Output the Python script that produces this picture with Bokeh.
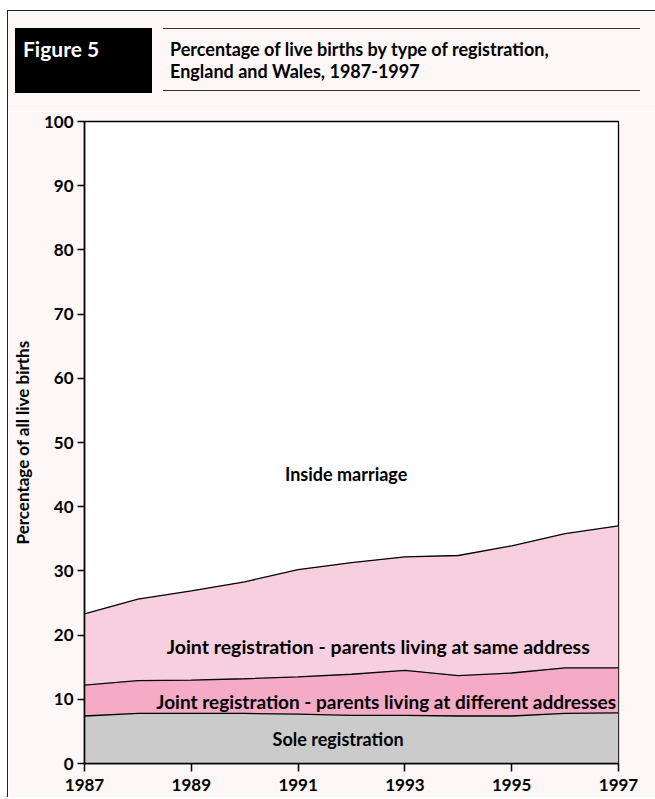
import numpy as np
from bokeh.plotting import figure
from bokeh.layouts import column
from bokeh.models import Range1d, FixedTicker, ColumnDataSource, Div
from bokeh.core.properties import value
from bokeh.embed import file_html
from bokeh.resources import INLINE

# ---- data (percent of all live births) ----
years = [1987, 1988, 1989, 1990, 1991, 1992, 1993, 1994, 1995, 1996, 1997]
sole = [7.4, 7.8, 7.8, 7.8, 7.7, 7.5, 7.5, 7.4, 7.4, 7.8, 7.9]
joint_diff = [4.8, 5.1, 5.2, 5.4, 5.8, 6.4, 7.0, 6.3, 6.7, 7.1, 7.0]
joint_same = [11.1, 12.7, 13.9, 15.1, 16.7, 17.4, 17.7, 18.7, 19.8, 20.9, 22.1]
x_ticks = [1987, 1989, 1991, 1993, 1995, 1997]
y_ticks = [0, 10, 20, 30, 40, 50, 60, 70, 80, 90, 100]
fig_label = "Figure 5"
title_lines = ["Percentage of live births by type of registration,", "England and Wales, 1987-1997"]

c1 = np.array(sole)
c2 = c1 + np.array(joint_diff)
c3 = c2 + np.array(joint_same)
src = ColumnDataSource(dict(x=years, zero=[0] * len(years), c1=c1, c2=c2, c3=c3))

FONT = "Lato"
BG = "#FDF7F7"

# ---------------- header (HTML) ----------------
hW, hH = 647, 100
header_html = f"""
<div style="position:relative;width:{hW}px;height:{hH}px;background:{BG};
            font-family:'{FONT}';font-weight:bold;margin:0;padding:0;">
  <div style="position:absolute;left:7px;top:17px;width:137px;height:65px;background:#000;"></div>
  <div style="position:absolute;left:15px;top:27px;font-size:21px;line-height:21px;color:#fff;
              white-space:nowrap;">{fig_label}</div>
  <div style="position:absolute;left:155px;top:17px;width:477px;height:0;
              border-top:1.5px solid #333;"></div>
  <div style="position:absolute;left:155px;top:79px;width:477px;height:0;
              border-top:1.5px solid #333;"></div>
  <div style="position:absolute;left:162px;top:27px;font-size:18px;line-height:22px;color:#000;
              white-space:nowrap;">{title_lines[0]}<br>{title_lines[1]}</div>
</div>
"""
header = Div(text=header_html, width=hW, height=hH, margin=0,
             styles={"background-color": BG})

# ---------------- chart ----------------
p = figure(width=647, height=686, x_range=Range1d(1987, 1997), y_range=Range1d(0, 100),
           output_backend="svg", toolbar_location=None,
           min_border_left=72, min_border_top=10, min_border_right=37, min_border_bottom=34)
p.border_fill_color = BG
p.background_fill_color = "white"
p.outline_line_color = "black"
p.outline_line_width = 1.3
p.grid.visible = False

p.varea(x="x", y1="zero", y2="c1", source=src, fill_color="#CBCBCB")
p.varea(x="x", y1="c1", y2="c2", source=src, fill_color="#F5AAC6")
p.varea(x="x", y1="c2", y2="c3", source=src, fill_color="#F8CFDE")
for col in ["c1", "c2", "c3"]:
    p.line(x="x", y=col, source=src, line_color="black", line_width=1.3)

for ax in (p.xaxis[0], p.yaxis[0]):
    ax.axis_line_color = "black"
    ax.axis_line_width = 1.6
    ax.major_tick_line_color = "black"
    ax.major_tick_line_width = 1.5
    ax.major_tick_in = 0
    ax.minor_tick_line_color = None
    ax.major_label_text_font = FONT
    ax.major_label_text_font_style = "bold"
    ax.major_label_text_font_size = "17px"
    ax.major_label_text_color = "black"
p.xaxis.ticker = FixedTicker(ticks=x_ticks)
p.yaxis.ticker = FixedTicker(ticks=y_ticks)
p.xaxis.major_tick_out = 8
p.yaxis.major_tick_out = 7
p.xaxis.major_label_standoff = 7
p.yaxis.major_label_standoff = 4
p.yaxis.axis_label = "Percentage of all live births"
p.yaxis.axis_label_text_font = FONT
p.yaxis.axis_label_text_font_style = "bold"
p.yaxis.axis_label_text_font_size = "17px"
p.yaxis.axis_label_text_color = "black"
p.yaxis.axis_label_standoff = 8

lab_font = value(FONT)
common = dict(text_font=lab_font, text_font_style="bold", text_align="center",
              text_baseline="middle", text_color="black")
p.text(x=[1991.9], y=[45.1], text=["Inside marriage"], text_font_size="18px", **common)
p.text(x=[1992.5], y=[18.3], text=["Joint registration - parents living at same address"],
       text_font_size="19.5px", **common)
p.text(x=[1992.65], y=[9.6], text=["Joint registration - parents living at different addresses"],
       text_font_size="19px", **common)
p.text(x=[1991.75], y=[3.8], text=["Sole registration"], text_font_size="18px", **common)

layout = column(header, p, styles={"margin-left": "7px", "margin-top": "10px",
                                   "border-left": "1px solid #222222",
                                   "border-top": "1px solid #222222"})

open("out.html", "w").write(file_html(layout, INLINE))
